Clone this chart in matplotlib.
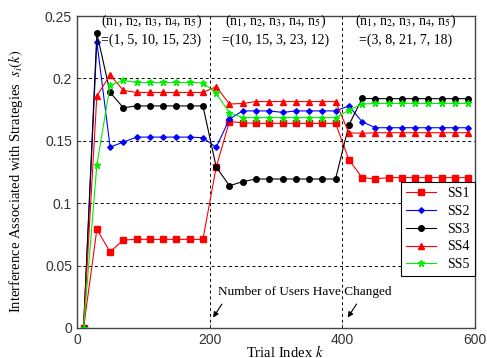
import matplotlib
matplotlib.use("Agg")
import matplotlib.pyplot as plt

trial_index = [10, 30, 50, 70, 90, 110, 130, 150, 170, 190,
               210, 230, 250, 270, 290, 310, 330, 350, 370, 390,
               410, 430, 450, 470, 490, 510, 530, 550, 570, 590]

ss1 = [0.0, 0.079, 0.061, 0.0705, 0.071, 0.071, 0.071, 0.071, 0.071, 0.071,
       0.129, 0.1655, 0.1645, 0.164, 0.164, 0.164, 0.164, 0.164, 0.164, 0.164,
       0.135, 0.1205, 0.1195, 0.1205, 0.1205, 0.1205, 0.1205, 0.1205, 0.1205, 0.1205]
ss2 = [0.0, 0.2295, 0.145, 0.149, 0.153, 0.153, 0.153, 0.153, 0.153, 0.1525,
       0.1448, 0.1675, 0.174, 0.174, 0.174, 0.1728, 0.174, 0.174, 0.174, 0.174,
       0.178, 0.1653, 0.1605, 0.1605, 0.1605, 0.1605, 0.1605, 0.1605, 0.1605, 0.1605]
ss3 = [0.0, 0.2364, 0.1888, 0.1765, 0.178, 0.178, 0.178, 0.178, 0.178, 0.178,
       0.129, 0.114, 0.1173, 0.1194, 0.1194, 0.1194, 0.1194, 0.1194, 0.1194, 0.1194,
       0.1625, 0.184, 0.1838, 0.1838, 0.1838, 0.1838, 0.1838, 0.1838, 0.1838, 0.1838]
ss4 = [0.0, 0.186, 0.2027, 0.1905, 0.1888, 0.1888, 0.1888, 0.1888, 0.1888, 0.1888,
       0.1934, 0.1795, 0.180, 0.1815, 0.1815, 0.1815, 0.1815, 0.1815, 0.1815, 0.1815,
       0.1565, 0.156, 0.1565, 0.1565, 0.1565, 0.1565, 0.1565, 0.1565, 0.1565, 0.1565]
ss5 = [0.0, 0.1306, 0.1945, 0.1985, 0.1968, 0.1968, 0.1968, 0.1968, 0.1968, 0.1966,
       0.188, 0.1725, 0.1686, 0.1686, 0.1686, 0.1686, 0.1686, 0.1686, 0.1686, 0.1686,
       0.1745, 0.1795, 0.180, 0.180, 0.180, 0.180, 0.180, 0.180, 0.180, 0.180]

series_labels = ["SS1", "SS2", "SS3", "SS4", "SS5"]
x_ticks = [0, 200, 400, 600]
y_ticks = [0, 0.05, 0.1, 0.15, 0.2, 0.25]
y_tick_labels = ["0", "0.05", "0.1", "0.15", "0.2", "0.25"]
user_sets = ["=(1, 5, 10, 15, 23)", "=(10, 15, 3, 23, 12)", "=(3, 8, 21, 7, 18)"]

plt.rcParams["mathtext.fontset"] = "stix"
serif = ["Liberation Serif", "DejaVu Serif"]
sans = ["Liberation Sans", "DejaVu Sans"]

fig = plt.figure(figsize=(4.87, 3.58), dpi=100)
ax = fig.add_axes([0.158, 0.084, 0.817, 0.871])

styles = [
    dict(color="#ff0000", marker="s", markersize=4.3),
    dict(color="#0000ff", marker="D", markersize=2.8),
    dict(color="#000000", marker="o", markersize=4.0),
    dict(color="#ff0000", marker="^", markersize=4.3),
    dict(color="#00ee00", marker="*", markersize=5.0),
]
data = [ss1, ss2, ss3, ss4, ss5]
for vals, lab, st in zip(data, series_labels, styles):
    ax.plot(trial_index, vals, label=lab, linewidth=0.8,
            color=st["color"], marker=st["marker"], markersize=st["markersize"],
            markerfacecolor=st["color"], markeredgecolor=st["color"])

ax.set_xlim(0, 600)
ax.set_ylim(0, 0.25)
ax.set_xticks(x_ticks)
ax.set_yticks(y_ticks)
ax.set_yticklabels(y_tick_labels)
for lbl in ax.get_xticklabels() + ax.get_yticklabels():
    lbl.set_family(sans)
    lbl.set_fontsize(10)
    lbl.set_color("#333333")
ax.tick_params(direction="in", length=3, width=0.6, colors="#333333", labelcolor="#333333")
ax.grid(True, color="black", linestyle=(0, (3, 3)), linewidth=0.7)
ax.set_axisbelow(True)
for sp in ax.spines.values():
    sp.set_linewidth(1.0)
    sp.set_color("#444444")

ax.set_xlabel("Trial Index $k$", family=serif, fontsize=10.5)
ax.xaxis.set_label_coords(0.523, -0.05)
ax.set_ylabel("Interference Associated with Strategies  $s_i(k)$", family=serif, fontsize=10.5)
ax.yaxis.set_label_coords(-0.13, 0.47)

head = "(n$_1$, n$_2$, n$_3$, n$_4$, n$_5$)"
centers = [113, 300, 496]
for cx, us in zip(centers, user_sets):
    ax.text(cx, 0.2455, head, ha="center", va="center", family=serif, fontsize=10)
    ax.text(cx - 1, 0.2305, us, ha="center", va="center", family=serif, fontsize=10)

ax.text(213, 0.029, "Number of Users Have Changed", ha="left", va="center",
        family=serif, fontsize=9.5)
ax.annotate("", xy=(203, 0.0065), xytext=(221, 0.021),
            arrowprops=dict(arrowstyle="-|>", color="black", lw=0.8, mutation_scale=8))
ax.annotate("", xy=(406, 0.0065), xytext=(424, 0.021),
            arrowprops=dict(arrowstyle="-|>", color="black", lw=0.8, mutation_scale=8))

leg = ax.legend(loc="upper right", bbox_to_anchor=(1.0, 0.468), prop={"family": serif, "size": 10},
                fancybox=False, framealpha=1, edgecolor="black", handlelength=2.2,
                borderaxespad=0, labelspacing=0.35, borderpad=0.35)
leg.get_frame().set_linewidth(0.8)

fig.savefig("out.png", dpi=100)
